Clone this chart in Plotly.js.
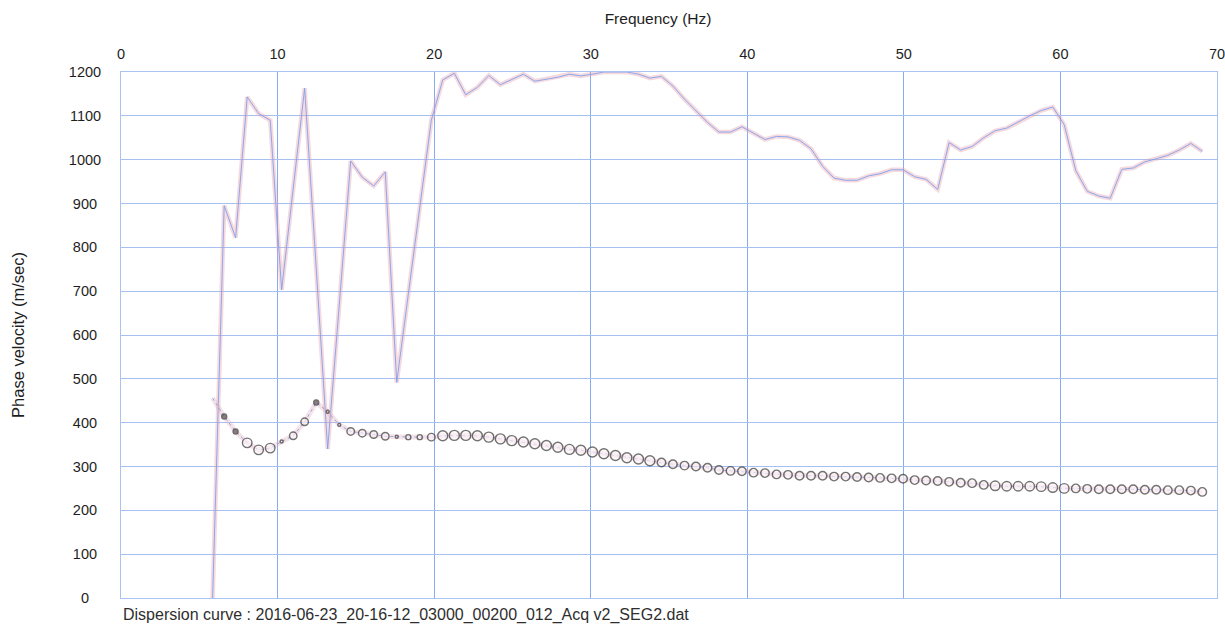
<!DOCTYPE html>
<html>
<head>
<meta charset="utf-8">
<script src="https://cdn.plot.ly/plotly-3.0.1.min.js"></script>
<style>
  html, body { margin: 0; padding: 0; background: #ffffff; }
  #chart { width: 1225px; height: 629px; }
</style>
</head>
<body>
<div id="chart"></div>
<script>
// Frequency samples (Hz) shared by both curves
const frequency = [
  5.85, 6.59, 7.32, 8.06, 8.79, 9.53, 10.26, 11.00, 11.73, 12.47,
  13.20, 13.94, 14.67, 15.41, 16.14, 16.88, 17.61, 18.35, 19.08, 19.82,
  20.55, 21.29, 22.02, 22.76, 23.49, 24.23, 24.96, 25.70, 26.43, 27.17,
  27.90, 28.64, 29.37, 30.11, 30.84, 31.58, 32.31, 33.05, 33.78, 34.52,
  35.25, 35.99, 36.72, 37.46, 38.19, 38.93, 39.66, 40.40, 41.13, 41.87,
  42.60, 43.34, 44.07, 44.81, 45.54, 46.28, 47.01, 47.75, 48.48, 49.22,
  49.95, 50.69, 51.42, 52.16, 52.89, 53.63, 54.36, 55.10, 55.83, 56.57,
  57.30, 58.04, 58.77, 59.51, 60.24, 60.98, 61.71, 62.45, 63.18, 63.92,
  64.65, 65.39, 66.12, 66.86, 67.59, 68.33, 69.06
];

// Phase velocity of the energy maximum (m/sec)
const maxVelocity = [
  0, 895, 822, 1143, 1105, 1090, 703, 935, 1163, 752,
  340, 668, 997, 960, 940, 972, 492, 693, 892, 1090,
  1182, 1197, 1148, 1165, 1192, 1171, 1183, 1195, 1179, 1184,
  1188, 1195, 1191, 1195, 1200, 1200, 1200, 1195, 1186, 1190,
  1168, 1138, 1112, 1085, 1063, 1063, 1075, 1060, 1046, 1053,
  1052, 1044, 1025, 985, 958, 953, 953, 963, 968, 977,
  977, 961, 955, 932, 1039, 1022, 1030, 1050, 1066, 1072,
  1086, 1100, 1112, 1120, 1080, 975, 928, 917, 912, 978,
  981, 995, 1002, 1010, 1022, 1037, 1019
];

// Picked dispersion curve (m/sec)
const pickedVelocity = [
  456, 414, 380, 354, 338, 342, 357, 370, 402, 446,
  425, 395, 380, 376, 373, 369, 368, 367, 367, 367,
  370, 371, 371, 370, 367, 363, 359, 356, 352, 348,
  344, 339, 337, 333, 329, 325, 320, 317, 313, 309,
  305, 302, 300, 297, 292, 290, 289, 286, 285, 282,
  281, 279, 279, 279, 277, 277, 276, 275, 274, 273,
  272, 269, 268, 267, 265, 263, 262, 258, 256, 255,
  255, 255, 254, 252, 250, 250, 249, 248, 248, 248,
  248, 247, 247, 246, 246, 245, 242
];

const xTicks = [0, 10, 20, 30, 40, 50, 60, 70];
const yTicks = [0, 100, 200, 300, 400, 500, 600, 700, 800, 900, 1000, 1100, 1200];

const fontFamily = '"Liberation Sans", Arial, Helvetica, sans-serif';
const textColor = '#1e1e1e';

// Y labels are centred in their column: pad shorter numbers on the right
// with figure / punctuation spaces so they line up like the 4-digit ones.
function centredLabel(v) {
  const s = String(v);
  if (s.length === 1) return s + '\u2007\u2008';
  if (s.length === 3) return s + '\u2008';
  return s;
}

// Marker diameter for each picked point (weak picks drawn smaller)
const pickMarkerSize = frequency.map((f, i) => {
  if (i === 0) return 0;
  if (i === 1 || i === 2 || i === 9) return 5;
  if (i === 6 || i === 10 || i === 11 || i === 16) return 3;
  if (i === 17 || i === 18) return 5;
  if (f < 10) return 9.5;
  if (f < 20) return 7.5;
  if (f < 34) return 10;
  if (f > 55.5 && f < 60.5) return 9.5;
  return 8.5;
});
const pickMarkerFill = frequency.map((f, i) =>
  (i === 1 || i === 2 || i === 9) ? '#5e5054' : 'rgba(255,246,248,0.85)');

const traces = [
  { // soft pink band under the maximum curve
    x: frequency, y: maxVelocity, type: 'scatter', mode: 'lines',
    line: { color: 'rgba(232,160,172,0.40)', width: 4.5 },
    hoverinfo: 'skip'
  },
  { // thin blue maximum curve
    x: frequency, y: maxVelocity, type: 'scatter', mode: 'lines',
    line: { color: 'rgba(120,160,238,0.85)', width: 1 }
  },
  { // soft pink band under the picked curve
    x: frequency, y: pickedVelocity, type: 'scatter', mode: 'lines',
    line: { color: 'rgba(230,175,185,0.35)', width: 5 },
    hoverinfo: 'skip'
  },
  { // picked points
    x: frequency, y: pickedVelocity, type: 'scatter', mode: 'lines+markers',
    line: { color: 'rgba(120,160,238,0.85)', width: 1, dash: 'dot' },
    marker: {
      symbol: 'circle', size: pickMarkerSize,
      color: pickMarkerFill,
      line: { color: '#383838', width: 1.4 }
    }
  }
];

const layout = {
  width: 1225, height: 629,
  paper_bgcolor: '#ffffff', plot_bgcolor: '#ffffff',
  margin: { l: 121, r: 8, t: 72, b: 31 },
  font: { family: fontFamily, size: 14, color: textColor },
  showlegend: false,
  title: {
    text: 'Frequency (Hz)',
    font: { family: fontFamily, size: 15.5, color: textColor },
    x: 0.49, xanchor: 'center', xref: 'paper',
    y: 0.971, yanchor: 'middle', yref: 'container'
  },
  xaxis: {
    side: 'top', range: [0, 70],
    tickmode: 'array', tickvals: xTicks, ticktext: xTicks.map(String),
    ticks: '', ticklabelstandoff: 6, ticklabeloverflow: 'allow',
    showgrid: true, gridcolor: '#86abf2', gridwidth: 1.2,
    zeroline: false,
    showline: true, linecolor: '#a9c3f2', linewidth: 1, mirror: true,
    tickfont: { family: fontFamily, size: 14.5, color: textColor }
  },
  yaxis: {
    range: [0, 1200],
    tickmode: 'array', tickvals: yTicks, ticktext: yTicks.map(centredLabel),
    ticks: '', ticklabelstandoff: 16,
    showgrid: true, gridcolor: '#a6c0f2', gridwidth: 1,
    zeroline: false,
    showline: true, linecolor: '#a9c3f2', linewidth: 1, mirror: true,
    tickfont: { family: fontFamily, size: 14.5, color: textColor },
    title: {
      text: 'Phase velocity (m/sec)',
      font: { family: fontFamily, size: 16.5, color: textColor },
      standoff: 40
    }
  },
  annotations: [{
    text: 'Dispersion curve : 2016-06-23_20-16-12_03000_00200_012_Acq v2_SEG2.dat',
    xref: 'paper', yref: 'paper', x: 0, y: -0.032,
    xanchor: 'left', yanchor: 'middle', showarrow: false,
    font: { family: fontFamily, size: 16, color: '#2e2e2e' }
  }]
};

Plotly.newPlot('chart', traces, layout, { displayModeBar: false, staticPlot: true });
</script>
</body>
</html>
